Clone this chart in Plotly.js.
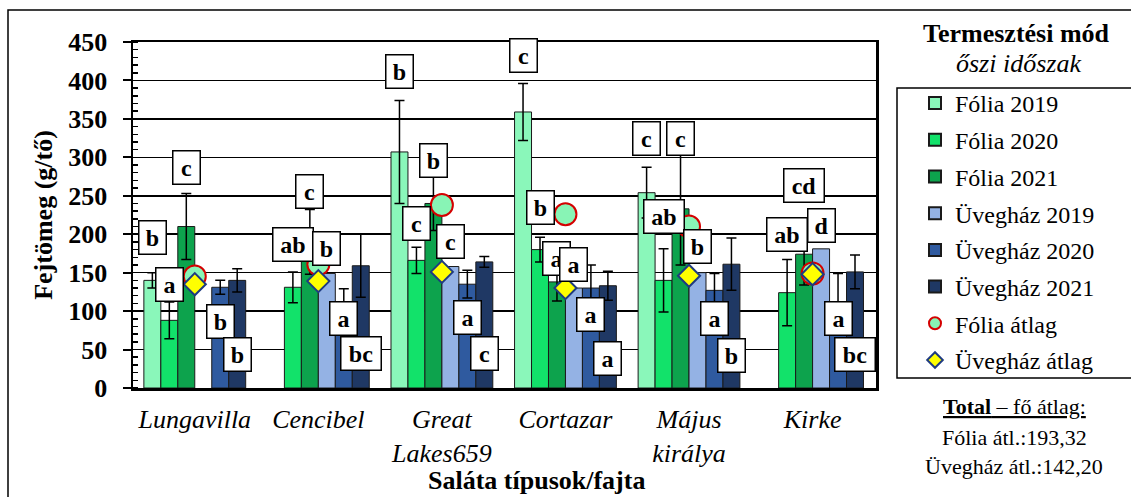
<!DOCTYPE html>
<html>
<head>
<meta charset="utf-8">
<script src="https://cdn.plot.ly/plotly-3.0.1.min.js"></script>
<style>html,body{margin:0;padding:0;background:#fff;}#chart{width:1131px;height:497px;}</style>
</head>
<body>
<div id="chart"></div>
<script>
// ---- data ----
const categories = ['Lungavilla', 'Cencibel', 'Great<br>Lakes659', 'Cortazar', 'Május<br>királya', 'Kirke'];
const seriesNames = ['Fólia 2019', 'Fólia 2020', 'Fólia 2021', 'Üvegház 2019', 'Üvegház 2020', 'Üvegház 2021'];

const folia2019 = [140, null, 307, 359, 254, null];
const folia2020 = [88, 131, 166, 180, 140, 124];
const folia2021 = [210, 190, 240, 138, 233, 174];
const uveg2019  = [null, 149, 158, 130, 150, 181];
const uveg2020  = [131, 112, 135, 130, 127, 110];
const uveg2021  = [140, 159, 164, 133, 161, 151];

const folia2019Err = [10, 0, 67, 37, 33, 0];
const folia2020Err = [24, 20, 17, 16, 41, 43];
const folia2021Err = [43, 42, 35, 25, 73, 40];
const uveg2019Err  = [0, 0, 0, 0, 0, 0];
const uveg2020Err  = [9, 17, 18, 30, 22, 39];
const uveg2021Err  = [15, 41, 7, 19, 34, 22];

const foliaAvg = [145, 161, 238, 226, 210, 149];
const uvegAvg  = [135, 139, 151, 130, 146, 148];

// significance letters
const folia2019Letters = ['b', '', 'b', 'c', 'c', ''];
const folia2020Letters = ['a', 'ab', 'c', 'b', 'ab', 'ab'];
const folia2021Letters = ['c', 'c', 'b', 'a', 'c', 'cd'];
const uveg2019Letters  = ['', 'b', 'c', 'a', 'b', 'd'];
const uveg2020Letters  = ['b', 'a', 'a', 'a', 'a', 'a'];
const uveg2021Letters  = ['b', 'bc', 'c', 'a', 'b', 'bc'];

// ---- label placement (layout, y in axis units) ----
const letterPosY = [
  [196, null, 412, 432, 325, null],
  [134, 186, 214, 235, 223, 199],
  [287, 255, 296, 169, 325, 264],
  [null, 182, 190, 161, 184, 212],
  [86, 91, 92, 96, 91, 91],
  [43, 45, 45, 39, 42, 44]
];

const values = [folia2019, folia2020, folia2021, uveg2019, uveg2020, uveg2021];
const errs = [folia2019Err, folia2020Err, folia2021Err, uveg2019Err, uveg2020Err, uveg2021Err];
const letters = [folia2019Letters, folia2020Letters, folia2021Letters, uveg2019Letters, uveg2020Letters, uveg2021Letters];
const colors = ['#8AF7BA', '#12E26A', '#0DA34D', '#94B2E4', '#2F5A9F', '#1F3864'];

const SERIF = '"Liberation Serif", "Times New Roman", serif';
const BARGAP = 0.176;

const traces = [];
values.forEach((v, i) => {
  const hasErr = errs[i].some(e => e > 0);
  traces.push({
    type: 'bar', name: seriesNames[i], x: categories, y: v,
    legendgroup: 'g' + i,
    marker: {color: colors[i], line: {color: '#1a1a1a', width: 1}},
    error_y: {type: 'data', array: errs[i], visible: hasErr, color: '#000', thickness: 1.5, width: 5}
  });
});
traces.push({
  type: 'scatter', mode: 'markers', name: 'Fólia átlag', x: categories, y: foliaAvg,
  legendgroup: 'g6',
  marker: {symbol: 'circle', size: 22, color: '#88F4B5', line: {color: '#D40000', width: 2}}
});
traces.push({
  type: 'scatter', mode: 'markers', name: 'Üvegház átlag', x: categories, y: uvegAvg,
  legendgroup: 'g7',
  marker: {symbol: 'diamond', size: 17, color: '#FFFF00', line: {color: '#1F3B80', width: 2}}
});

const annotations = [];
const nS = values.length;
const bw = (1 - BARGAP) / nS;
letters.forEach((arr, i) => {
  arr.forEach((t, g) => {
    if (!t) return;
    annotations.push({
      x: g - (1 - BARGAP) / 2 + bw * (i + 0.5), y: letterPosY[i][g],
      xref: 'x', yref: 'y', xanchor: 'center', yanchor: 'middle',
      text: '<b>' + t + '</b>', showarrow: false,
      bgcolor: '#ffffff', bordercolor: '#000', borderwidth: 1.5, borderpad: 3,
      width: t.length === 1 ? 20 : 33,
      font: {family: SERIF, size: 24, color: '#000'}
    });
  });
});

// pixel helpers for paper placement
const W = 1131, H = 497, ML = 133, MR = 255, MT = 42, MB = 109;
const PW = W - ML - MR, PH = H - MT - MB;
const px = x => (x - ML) / PW;
const py = y => (H - MB - y) / PH;

function paperText(x, y, text, size) {
  return {xref: 'paper', yref: 'paper', x: px(x), y: py(y), xanchor: 'center', yanchor: 'middle',
          text: text, showarrow: false, font: {family: SERIF, size: size, color: '#000'}};
}
annotations.push(
  paperText(536, 480, '<b>Saláta típusok/fajta</b>', 26),
  paperText(1016, 33, '<b>Termesztési mód</b>', 26),
  paperText(1018, 63, '<i>őszi időszak</i>', 26),
  paperText(1015, 406, '<u><b>Total</b> – fő átlag:</u>', 22),
  paperText(1014, 437, 'Fólia átl.:193,32', 22),
  paperText(1014, 466, 'Üvegház átl.:142,20', 22)
);

const shapes = [
  {type: 'rect', xref: 'paper', yref: 'paper', x0: px(8), x1: px(1140), y0: py(510), y1: py(10),
   line: {color: '#000', width: 1.5}, fillcolor: 'rgba(0,0,0,0)', layer: 'below'},
  {type: 'rect', xref: 'paper', yref: 'paper', x0: px(897), x1: px(1140), y0: py(378), y1: py(88),
   line: {color: '#000', width: 1.5}, fillcolor: 'rgba(0,0,0,0)'}
];

const layout = {
  width: W, height: H,
  margin: {l: ML, r: MR, t: MT, b: MB, pad: 0},
  paper_bgcolor: '#fff', plot_bgcolor: '#fff',
  barmode: 'group', bargap: BARGAP, bargroupgap: 0,
  showlegend: true,
  legend: {
    x: px(915), y: py(81), xanchor: 'left', yanchor: 'top',
    bgcolor: 'rgba(0,0,0,0)', borderwidth: 0,
    font: {family: SERIF, size: 24, color: '#000'},
    tracegroupgap: 2.5, itemsizing: 'constant', traceorder: 'grouped'
  },
  xaxis: {
    type: 'category', showline: true, linecolor: '#000', linewidth: 2.5, mirror: true,
    ticks: '', showgrid: false,
    tickfont: {family: SERIF, size: 26, color: '#000', style: 'italic'},
    ticklabelstandoff: 6
  },
  yaxis: {
    range: [0, 450], dtick: 50, tick0: 0,
    showline: true, linecolor: '#000', linewidth: 2.5, mirror: true,
    showgrid: true, gridcolor: '#000', gridwidth: 1.5,
    zeroline: false,
    ticks: 'outside', ticklen: 8, tickwidth: 2, tickcolor: '#000',
    minor: {dtick: 10, ticks: 'inside', ticklen: 5, tickwidth: 1.5, tickcolor: '#000', showgrid: false},
    tickfont: {family: SERIF, size: 26, color: '#000', weight: 'bold'},
    ticklabelstandoff: 10,
    title: {text: '<b>Fejtömeg (g/tő)</b>', font: {family: SERIF, size: 26, color: '#000'}, standoff: 8}
  },
  annotations: annotations,
  shapes: shapes
};

Plotly.newPlot('chart', traces, layout, {displayModeBar: false, staticPlot: true});
</script>
</body>
</html>
